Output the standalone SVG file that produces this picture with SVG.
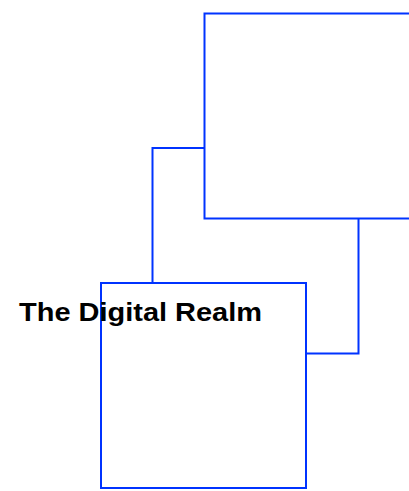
<svg xmlns="http://www.w3.org/2000/svg" width="409" height="491" viewBox="0 0 409 491">
<style>
.node{fill:none;stroke:#0033ff;stroke-width:2}
.conn{fill:none;stroke:#0033ff;stroke-width:2}
.lbl{font-family:"Liberation Sans",Arial,sans-serif;font-weight:bold;font-size:26px;fill:#000}
</style>
<rect width="409" height="491" fill="#fff"/>
<g id="connectors">
<path class="conn" d="M204.5,148 H152.5 V283"/>
<path class="conn" d="M358.5,218.5 V353.5 H306"/>
</g>
<g id="node-top">
<rect class="node" x="204.5" y="13.5" width="300" height="205"/>
</g>
<g id="node-bottom">
<rect class="node" x="101" y="283" width="205" height="205"/>
</g>
<g id="title">
<text class="lbl" x="19" y="321" textLength="243" lengthAdjust="spacingAndGlyphs">The Digital Realm</text>
</g>
</svg>
